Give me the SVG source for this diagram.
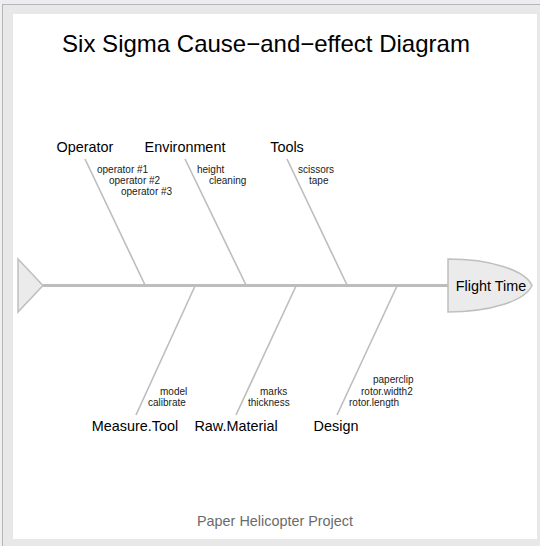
<svg xmlns="http://www.w3.org/2000/svg" width="540" height="546" viewBox="0 0 540 546">
<style>
.bone{stroke:#bdbdbd;stroke-width:1.6;fill:none}
.spine{stroke:#bdbdbd;stroke-width:3;fill:none}
.shape{fill:#ebebeb;stroke:#bfbfbf;stroke-width:1.5}
.cat{font-family:"Liberation Sans",Arial,sans-serif;font-size:14.4px;fill:#000;text-anchor:middle}
.sub{font-family:"Liberation Sans",Arial,sans-serif;font-size:10px;fill:#1a1a1a}
</style>
<rect x="0" y="0" width="540" height="546" fill="#e8e8e8"/>
<rect x="0" y="0" width="540" height="4" fill="#ededf1"/>
<rect x="0" y="0" width="2" height="546" fill="#efefef"/>
<line x1="2" y1="4.5" x2="540" y2="4.5" stroke="#b6b6b6" stroke-width="1"/>
<line x1="2.5" y1="4" x2="2.5" y2="546" stroke="#b6b6b6" stroke-width="1"/>
<rect x="13" y="14" width="524" height="525" fill="#ffffff"/>
<text x="266" y="52" font-family="'Liberation Sans',Arial,sans-serif" font-size="24" text-anchor="middle" fill="#000">Six Sigma Cause−and−effect Diagram</text>
<text x="275" y="526" font-family="'Liberation Sans',Arial,sans-serif" font-size="14.4" text-anchor="middle" fill="#6b6b6b">Paper Helicopter Project</text>
<g id="connectors">
<line class="spine" x1="43" y1="285.5" x2="448" y2="285.5"/>
<line class="bone" x1="85" y1="159" x2="145" y2="285"/>
<line class="bone" x1="185" y1="159" x2="246" y2="285"/>
<line class="bone" x1="287" y1="159" x2="347" y2="285"/>
<line class="bone" x1="195" y1="286" x2="136" y2="415"/>
<line class="bone" x1="296" y1="286" x2="236" y2="415"/>
<line class="bone" x1="397" y1="286" x2="337" y2="415"/>
</g>
<g id="tail"><polygon class="shape" points="18,259 43,285.5 18,312"/></g>
<g id="effect">
<path class="shape" d="M448,259 C490,259 525,270 532,285.5 C525,301 490,312 448,312 Z"/>
<text class="cat" x="491" y="291">Flight Time</text>
</g>
<g id="operator">
<text class="cat" x="85" y="152">Operator</text>
<text class="sub" x="97" y="172.5">operator #1</text>
<text class="sub" x="109" y="183.5">operator #2</text>
<text class="sub" x="121" y="194.5">operator #3</text>
</g>
<g id="environment">
<text class="cat" x="185" y="152">Environment</text>
<text class="sub" x="197" y="172.5">height</text>
<text class="sub" x="209" y="183.5">cleaning</text>
</g>
<g id="tools">
<text class="cat" x="287" y="152">Tools</text>
<text class="sub" x="298" y="172.5">scissors</text>
<text class="sub" x="309" y="183.5">tape</text>
</g>
<g id="measure">
<text class="cat" x="135" y="431">Measure.Tool</text>
<text class="sub" x="160" y="394.5">model</text>
<text class="sub" x="148" y="406">calibrate</text>
</g>
<g id="raw">
<text class="cat" x="236" y="431">Raw.Material</text>
<text class="sub" x="260" y="394.5">marks</text>
<text class="sub" x="248" y="406">thickness</text>
</g>
<g id="design">
<text class="cat" x="336" y="431">Design</text>
<text class="sub" x="373" y="382.5">paperclip</text>
<text class="sub" x="361" y="394.5">rotor.width2</text>
<text class="sub" x="349" y="406">rotor.length</text>
</g>
</svg>
